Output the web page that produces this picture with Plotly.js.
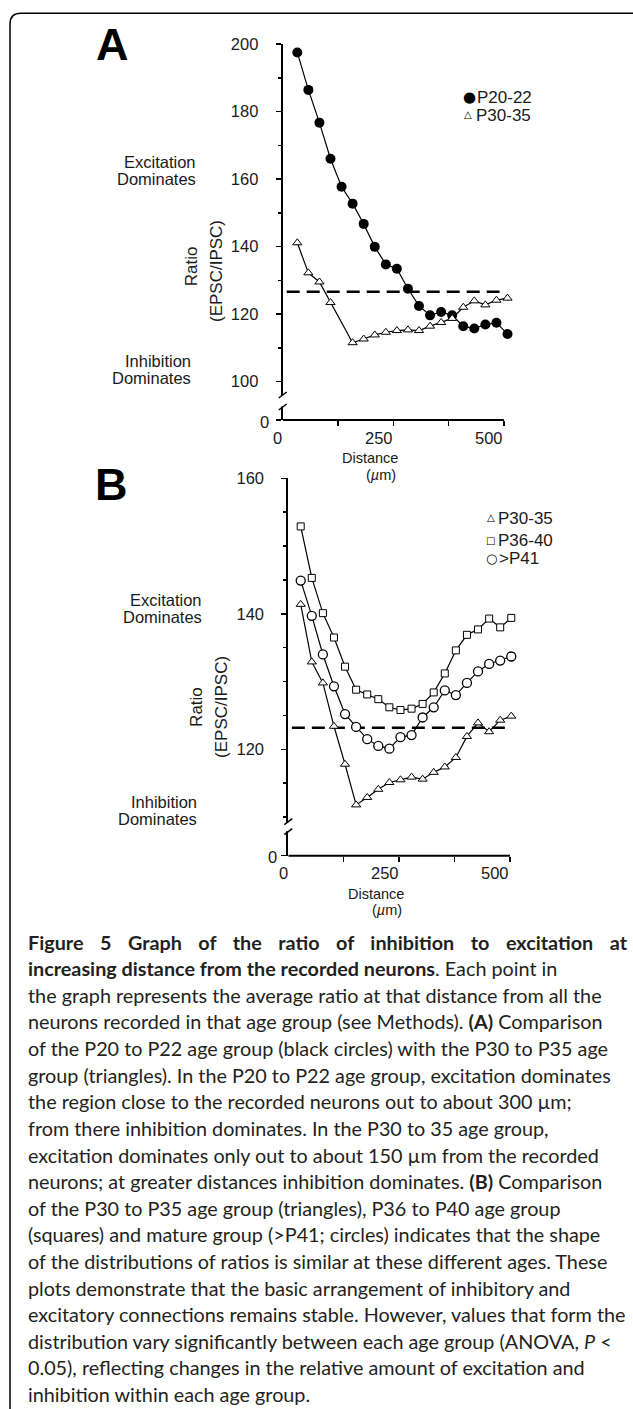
<!DOCTYPE html>
<html>
<head>
<meta charset="utf-8">
<script src="https://cdn.plot.ly/plotly-3.0.1.min.js"></script>
<style>
  html, body { margin: 0; padding: 0; background: #ffffff; }
  #chart { width: 633px; height: 1409px; }
</style>
</head>
<body>
<div id="chart"></div>
<script>
// ---------------- DATA ----------------
// Panel A
const distA = [33, 58, 83, 108, 133, 158, 183, 208, 233, 258, 283, 308, 333, 358, 383, 408, 433, 458, 483, 508];
const p20_22A = [197.5, 186.4, 176.7, 166.0, 157.7, 152.7, 146.7, 139.9, 134.7, 133.4, 127.5, 122.4, 119.6, 120.6, 119.6, 116.4, 115.7, 116.9, 117.4, 114.1];
const distTriA = [33, 58, 83, 108, 158, 183, 208, 233, 258, 283, 308, 333, 358, 383, 408, 433, 458, 483, 508];
const p30_35A = [141.1, 132.2, 129.5, 123.4, 111.5, 112.6, 113.8, 114.6, 115.1, 115.3, 115.1, 116.4, 117.5, 118.7, 122.0, 123.9, 122.7, 124.1, 124.7];
const refXA = [9, 490];
const refYA = [126.6, 126.6];

// Panel B
const distB = [28, 53, 78, 103, 128, 153, 178, 203, 228, 253, 278, 303, 328, 353, 378, 403, 428, 453, 478, 503];
const p30_35B = [141.4, 132.9, 129.8, 123.4, 117.8, 111.8, 112.9, 114.1, 115.1, 115.5, 115.9, 115.6, 116.6, 117.4, 118.8, 121.9, 123.9, 122.6, 124.3, 124.9];
const p36_40B = [152.9, 145.3, 140.1, 136.5, 132.2, 128.8, 128.1, 127.4, 126.2, 125.8, 126.0, 126.7, 128.4, 131.2, 134.6, 136.9, 137.7, 139.3, 138.0, 139.4];
const p41B = [144.9, 139.7, 134.0, 129.3, 125.2, 123.3, 121.5, 120.5, 120.1, 121.8, 122.1, 124.7, 126.2, 128.7, 128.0, 129.8, 131.5, 132.6, 133.1, 133.7];
const refXB = [8, 490];
const refYB = [123.2, 123.2];

// Tick values / labels
const yTicksA = [100, 120, 140, 160, 180, 200];
const yMinorA = [110, 130, 150, 170, 190];
const yTicksB = [120, 140, 160];
const yMinorB = [110, 115, 125, 130, 135, 145, 150, 155];
const xTicks = [125, 250, 375, 500];
const xLabelVals = [0, 250, 500];
const xLabelText = ['0', '250', '500'];
const xAxisEnd = 500;       // drawn x-axis line ends at 500 µm
// axis positions that stand for "0" below the broken axis
const zeroA = 88.6;
const zeroB = 104.3;

const legendA = ['P20-22', 'P30-35'];
const legendB = ['P30-35', 'P36-40', '>P41'];

const captionLines = [
  '<b>Figure 5 Graph of the ratio of inhibition to excitation at</b>',
  '<b>increasing distance from the recorded neurons</b>. Each point in',
  'the graph represents the average ratio at that distance from all the',
  'neurons recorded in that age group (see Methods). <b>(A)</b> Comparison',
  'of the P20 to P22 age group (black circles) with the P30 to P35 age',
  'group (triangles). In the P20 to P22 age group, excitation dominates',
  'the region close to the recorded neurons out to about 300 µm;',
  'from there inhibition dominates. In the P30 to 35 age group,',
  'excitation dominates only out to about 150 µm from the recorded',
  'neurons; at greater distances inhibition dominates. <b>(B)</b> Comparison',
  'of the P30 to P35 age group (triangles), P36 to P40 age group',
  '(squares) and mature group (>P41; circles) indicates that the shape',
  'of the distributions of ratios is similar at these different ages. These',
  'plots demonstrate that the basic arrangement of inhibitory and',
  'excitatory connections remains stable. However, values that form the',
  'distribution vary significantly between each age group (ANOVA, <i>P</i> <',
  '0.05), reflecting changes in the relative amount of excitation and',
  'inhibition within each age group.'
];

// ---------------- LAYOUT HELPERS ----------------
const W = 633, H = 1409;
const px = v => v / W;
const py = v => 1 - v / H;
const FONT = '"Liberation Sans", Arial, Helvetica, sans-serif';
const INK = '#1a1a1a';

// ---------------- TRACES ----------------
const lineStyle = {color: '#000', width: 1.2};
const traces = [
  // Panel A
  {x: refXA, y: refYA, xaxis: 'x', yaxis: 'y', mode: 'lines', line: {color: '#000', width: 2.5, dash: '13px,7px'}, hoverinfo: 'skip'},
  {x: distA, y: p20_22A, xaxis: 'x', yaxis: 'y', mode: 'lines+markers', line: lineStyle,
   marker: {symbol: 'circle', size: 10, color: '#000'}, cliponaxis: false, name: legendA[0]},
  {x: distTriA, y: p30_35A, xaxis: 'x', yaxis: 'y', mode: 'lines+markers', line: lineStyle,
   marker: {symbol: 'triangle-up', size: 8, color: '#fff', line: {color: '#000', width: 1}}, cliponaxis: false, name: legendA[1]},
  // Panel B
  {x: refXB, y: refYB, xaxis: 'x2', yaxis: 'y2', mode: 'lines', line: {color: '#000', width: 2.5, dash: '13px,7px'}, hoverinfo: 'skip'},
  {x: distB, y: p36_40B, xaxis: 'x2', yaxis: 'y2', mode: 'lines+markers', line: lineStyle,
   marker: {symbol: 'square', size: 7, color: '#fff', line: {color: '#000', width: 1}}, cliponaxis: false, name: legendB[1]},
  {x: distB, y: p41B, xaxis: 'x2', yaxis: 'y2', mode: 'lines+markers', line: lineStyle,
   marker: {symbol: 'circle', size: 9, color: '#fff', line: {color: '#000', width: 1.3}}, cliponaxis: false, name: legendB[2]},
  {x: distB, y: p30_35B, xaxis: 'x2', yaxis: 'y2', mode: 'lines+markers', line: lineStyle,
   marker: {symbol: 'triangle-up', size: 8, color: '#fff', line: {color: '#000', width: 1}}, cliponaxis: false, name: legendB[0]}
];

// ---------------- AXES ----------------
const tickFont = {family: FONT, size: 16.5, color: INK};
const baseY = {
  showgrid: false, zeroline: false, showline: true, linecolor: '#000', linewidth: 2,
  ticks: 'outside', ticklen: 5, tickwidth: 1.5, tickcolor: '#000', tickfont: tickFont,
  tickmode: 'array', fixedrange: true, ticklabelstandoff: 14
};
const baseX = {
  showgrid: false, zeroline: false, showline: false,
  ticks: 'outside', ticklen: 5, tickwidth: 1.5, tickcolor: '#000',
  tickmode: 'array', tickvals: xTicks, showticklabels: false, range: [0, 515], fixedrange: true
};
const minorA = {tickmode: 'array', tickvals: yMinorA, ticks: 'outside', ticklen: 3, tickwidth: 1.5, tickcolor: '#000'};
const minorB = {tickmode: 'array', tickvals: yMinorB, ticks: 'outside', ticklen: 3, tickwidth: 1.5, tickcolor: '#000'};

const layout = {
  width: W, height: H,
  margin: {l: 0, r: 0, t: 0, b: 0},
  paper_bgcolor: '#fff', plot_bgcolor: 'rgba(0,0,0,0)',
  showlegend: false,
  font: {family: FONT, color: INK},
  xaxis: Object.assign({}, baseX, {domain: [px(282.7), px(510.6)], anchor: 'y'}),
  yaxis: Object.assign({}, baseY, {domain: [py(420), py(44)], range: [zeroA, 200], anchor: 'x',
    tickvals: [zeroA].concat(yTicksA), ticktext: [''].concat(yTicksA.map(String)), minor: minorA}),
  xaxis2: Object.assign({}, baseX, {domain: [px(288.3), px(516.6)], anchor: 'y2'}),
  yaxis2: Object.assign({}, baseY, {domain: [py(855.7), py(478.3)], range: [zeroB, 160], anchor: 'x2',
    tickvals: [zeroB].concat(yTicksB), ticktext: [''].concat(yTicksB.map(String)), minor: minorB}),
  shapes: [],
  annotations: []
};

// x-axis lines, from 0 to 500 on each panel's own scale
layout.shapes.push({type: 'line', xref: 'x', yref: 'paper', x0: 0, x1: xAxisEnd, y0: py(420), y1: py(420),
  line: {color: '#000', width: 2}});
layout.shapes.push({type: 'line', xref: 'x2', yref: 'paper', x0: 0, x1: xAxisEnd, y0: py(855.7), y1: py(855.7),
  line: {color: '#000', width: 2}});

// axis break: white gap plus two slanted marks
function axisBreak(xAxisPx, yTop, yBot) {
  layout.shapes.push({type: 'rect', xref: 'paper', yref: 'paper', layer: 'above',
    x0: px(xAxisPx - 3), x1: px(xAxisPx + 3), y0: py(yBot - 0.5), y1: py(yTop + 0.5),
    fillcolor: '#fff', line: {width: 0}});
  [yTop, yBot].forEach(yy => {
    layout.shapes.push({type: 'line', xref: 'paper', yref: 'paper', layer: 'above',
      x0: px(xAxisPx - 4), y0: py(yy + 3), x1: px(xAxisPx + 4), y1: py(yy - 3),
      line: {color: '#000', width: 1.5}});
  });
}
axisBreak(282.7, 395, 407);
axisBreak(288.3, 821.7, 831.7);

// frame with rounded top-left corner
layout.shapes.push({type: 'path', xref: 'paper', yref: 'paper',
  path: `M ${px(640)},${py(13.3)} L ${px(21)},${py(13.3)} Q ${px(10)},${py(13.3)} ${px(10)},${py(24)} L ${px(10)},${py(1415)}`,
  line: {color: '#000', width: 1.5}});

function ann(o) {
  layout.annotations.push(Object.assign({showarrow: false, xref: 'paper', yref: 'paper',
    font: {family: FONT, size: 16.5, color: INK}}, o));
}

// x tick labels (right-aligned at tick)
xLabelVals.forEach((v, i) => {
  ann({xref: 'x', x: v, y: py(437.7), text: xLabelText[i], xanchor: 'right', yanchor: 'middle', xshift: 1.5});
  ann({xref: 'x2', x: v, y: py(873.3), text: xLabelText[i], xanchor: 'right', yanchor: 'middle', xshift: 1.5});
});
// "0" labels of the broken y axes
ann({x: px(271), yref: 'y', y: zeroA, text: '0', xanchor: 'right', yanchor: 'middle', yshift: -1.5});
ann({x: px(279), yref: 'y2', y: zeroB, text: '0', xanchor: 'right', yanchor: 'middle', yshift: -1});

// panel letters
ann({x: px(112), y: py(45), text: '<b>A</b>', xanchor: 'center', yanchor: 'middle', font: {family: FONT, size: 45, color: '#000'}});
ann({x: px(111.5), y: py(484), text: '<b>B</b>', xanchor: 'center', yanchor: 'middle', font: {family: FONT, size: 45, color: '#000'}});

// y titles
const titleFont = {family: FONT, size: 17, color: INK};
ann({x: px(191.5), y: py(266.7), text: 'Ratio', textangle: -90, xanchor: 'center', yanchor: 'middle', font: titleFont});
ann({x: px(216.5), y: py(271.5), text: '(EPSC/IPSC)', textangle: -90, xanchor: 'center', yanchor: 'middle', font: titleFont});
ann({x: px(197.2), y: py(706.7), text: 'Ratio', textangle: -90, xanchor: 'center', yanchor: 'middle', font: titleFont});
ann({x: px(222.2), y: py(706.7), text: '(EPSC/IPSC)', textangle: -90, xanchor: 'center', yanchor: 'middle', font: titleFont});

// side labels
const sideFont = {family: FONT, size: 16.5, color: INK};
ann({x: px(198.3), y: py(161.7), text: 'Excitation', xanchor: 'right', yanchor: 'middle', font: sideFont});
ann({x: px(198.3), y: py(179.3), text: 'Dominates', xanchor: 'right', yanchor: 'middle', font: sideFont});
ann({x: px(192.7), y: py(360.7), text: 'Inhibition', xanchor: 'right', yanchor: 'middle', font: sideFont});
ann({x: px(192.7), y: py(378.3), text: 'Dominates', xanchor: 'right', yanchor: 'middle', font: sideFont});
ann({x: px(204), y: py(600), text: 'Excitation', xanchor: 'right', yanchor: 'middle', font: sideFont});
ann({x: px(204), y: py(617), text: 'Dominates', xanchor: 'right', yanchor: 'middle', font: sideFont});
ann({x: px(198.5), y: py(801.7), text: 'Inhibition', xanchor: 'right', yanchor: 'middle', font: sideFont});
ann({x: px(198.5), y: py(819), text: 'Dominates', xanchor: 'right', yanchor: 'middle', font: sideFont});

// Distance titles
const distFont = {family: FONT, size: 14.5, color: INK};
ann({x: px(370), y: py(458), text: 'Distance', xanchor: 'center', yanchor: 'middle', font: distFont});
ann({x: px(381), y: py(474.5), text: '(<i>µ</i>m)', xanchor: 'center', yanchor: 'middle', font: distFont});
ann({x: px(375.7), y: py(894.3), text: 'Distance', xanchor: 'center', yanchor: 'middle', font: distFont});
ann({x: px(386.7), y: py(910), text: '(<i>µ</i>m)', xanchor: 'center', yanchor: 'middle', font: distFont});

// legends
const legFont = {family: FONT, size: 17, color: INK};
const symFont = s => ({family: '"DejaVu Sans", sans-serif', size: s, color: '#000'});
ann({x: px(469.2), y: py(97.3), text: '●', xanchor: 'center', yanchor: 'middle', font: symFont(15)});
ann({x: px(474.5), y: py(97.3), text: legendA[0], xanchor: 'left', yanchor: 'middle', font: legFont});
ann({x: px(468.2), y: py(114.5), text: '△', xanchor: 'center', yanchor: 'middle', font: symFont(10)});
ann({x: px(474), y: py(115), text: legendA[1], xanchor: 'left', yanchor: 'middle', font: legFont});

ann({x: px(490.8), y: py(517.5), text: '△', xanchor: 'center', yanchor: 'middle', font: symFont(10)});
ann({x: px(496), y: py(518.3), text: legendB[0], xanchor: 'left', yanchor: 'middle', font: legFont});
ann({x: px(490.2), y: py(540), text: '□', xanchor: 'center', yanchor: 'middle', font: symFont(10)});
ann({x: px(495.7), y: py(540), text: legendB[1], xanchor: 'left', yanchor: 'middle', font: legFont});
ann({x: px(491.2), y: py(558.3), text: '○', xanchor: 'center', yanchor: 'middle', font: symFont(13)});
ann({x: px(496.7), y: py(558.3), text: legendB[2], xanchor: 'left', yanchor: 'middle', font: legFont});

// caption
const capFont = {family: 'Lato, "Open Sans", sans-serif', size: 19.8, color: '#231f20'};
captionLines.forEach((t, i) => {
  let txt = t;
  if (i === 0) txt = '<span style="word-spacing:11.7px">' + t + '</span>';
  ann({x: px(26), y: py(941.7 + 26.6 * i), text: txt, xanchor: 'left', yanchor: 'middle', font: capFont, align: 'left'});
});

Plotly.newPlot('chart', traces, layout, {staticPlot: true, displayModeBar: false});
</script>
</body>
</html>
